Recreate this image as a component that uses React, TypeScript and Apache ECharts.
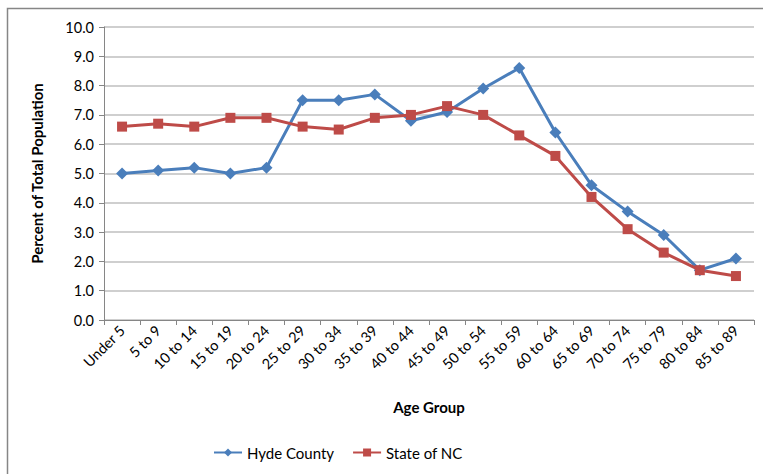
import React, { useEffect, useRef } from "react";
import * as echarts from "echarts";

const categories = ["Under 5", "5 to 9", "10 to 14", "15 to 19", "20 to 24", "25 to 29", "30 to 34", "35 to 39", "40 to 44", "45 to 49", "50 to 54", "55 to 59", "60 to 64", "65 to 69", "70 to 74", "75 to 79", "80 to 84", "85 to 89"];
const hydeCounty = [5.0, 5.1, 5.2, 5.0, 5.2, 7.5, 7.5, 7.7, 6.8, 7.1, 7.9, 8.6, 6.4, 4.6, 3.7, 2.9, 1.7, 2.1];
const stateNC = [6.6, 6.7, 6.6, 6.9, 6.9, 6.6, 6.5, 6.9, 7.0, 7.3, 7.0, 6.3, 5.6, 4.2, 3.1, 2.3, 1.7, 1.5];

const FONT = "Lato, 'Liberation Sans', sans-serif";

export default function App() {
  const ref = useRef<HTMLDivElement>(null);
  useEffect(() => {
    const chart = echarts.init(ref.current!, null, { renderer: "svg" });
    chart.setOption({
      animation: false,
      backgroundColor: "#ffffff",
      textStyle: { fontFamily: FONT },
      graphic: [
        {
          type: "rect",
          shape: { x: 7.5, y: 8.5, width: 800, height: 500 },
          style: { fill: "none", stroke: "#868686", lineWidth: 1.5 },
          silent: true,
        },
      ],
      grid: { left: 104, right: 9, top: 27, bottom: 154 },
      legend: {
        left: 208,
        top: 440,
        itemWidth: 28,
        itemHeight: 10,
        itemGap: 18,
        textStyle: { fontFamily: FONT, fontSize: 15, color: "#000" },
        data: ["Hyde County", "State of NC"],
      },
      xAxis: {
        type: "category",
        data: categories,
        boundaryGap: true,
        name: "Age Group",
        nameLocation: "middle",
        nameGap: 79,
        nameTextStyle: { fontFamily: FONT, fontSize: 15, fontWeight: "bold", color: "#000" },
        axisLine: { lineStyle: { color: "#868686", width: 1 } },
        axisTick: { show: true, alignWithLabel: false, length: 5, lineStyle: { color: "#868686" } },
        axisLabel: { rotate: 45, fontSize: 14.5, color: "#000", fontFamily: FONT, margin: 8, interval: 0 },
        splitLine: { show: false },
      },
      yAxis: {
        type: "value",
        min: 0,
        max: 10,
        interval: 1,
        name: "Percent of Total Population",
        nameLocation: "middle",
        nameGap: 60,
        nameTextStyle: { fontFamily: FONT, fontSize: 15, fontWeight: "bold", color: "#000" },
        axisLine: { show: true, lineStyle: { color: "#868686", width: 1 } },
        axisTick: { show: true, length: 5, lineStyle: { color: "#868686" } },
        axisLabel: { fontSize: 14.5, color: "#000", fontFamily: FONT, margin: 10, formatter: (v: number) => v.toFixed(1) },
        splitLine: { show: true, lineStyle: { color: "#bfbfbf", width: 1.5 } },
      },
      series: [
        {
          name: "Hyde County",
          type: "line",
          data: hydeCounty,
          symbol: "diamond",
          symbolSize: 12,
          color: "#4a7ebb",
          lineStyle: { width: 3, color: "#4a7ebb" },
          itemStyle: { color: "#4a7ebb" },
        },
        {
          name: "State of NC",
          type: "line",
          data: stateNC,
          symbol: "rect",
          symbolSize: 10,
          color: "#be4b48",
          lineStyle: { width: 3, color: "#be4b48" },
          itemStyle: { color: "#be4b48" },
        },
      ],
    });
    return () => chart.dispose();
  }, []);
  return <div ref={ref} style={{ position: "absolute", left: 0, top: 0, width: 763, height: 474 }} />;
}
